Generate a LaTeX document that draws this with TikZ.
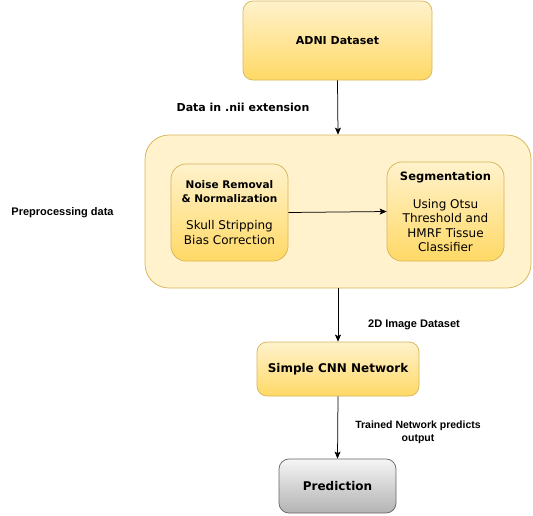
\documentclass[tikz,border=0pt]{standalone}
\usepackage{fontspec}
\setmainfont{DejaVu Sans}
\newfontfamily\arialfont{Liberation Sans}
\usetikzlibrary{arrows.meta}
\definecolor{ylight}{HTML}{FFF2CC}
\definecolor{ydark}{HTML}{FFD966}
\definecolor{yborder}{HTML}{D6B656}
\definecolor{glight}{HTML}{F5F5F5}
\definecolor{gdark}{HTML}{B3B3B3}
\definecolor{gborder}{HTML}{666666}
\tikzset{
  ybox/.style={draw=yborder, line width=0.75pt, top color=ylight, bottom color=ydark, rounded corners=#1, inner sep=0pt, align=center},
  gbox/.style={draw=gborder, line width=0.75pt, top color=glight, bottom color=gdark, rounded corners=10pt, inner sep=0pt, align=center},
  outerbox/.style={draw=yborder, line width=0.75pt, fill=ylight, rounded corners=24pt, inner sep=0pt},
  conn/.style={draw=black, line width=0.75pt, -{Stealth[length=7pt,width=6pt,inset=1.5pt]}},
  lbl/.style={inner sep=0pt, align=center, font=\arialfont\bfseries\fontsize{11}{13}\selectfont},
}
\newcommand{\nbold}{\bfseries\fontsize{10.5}{13}\selectfont}
\newcommand{\sbold}{\bfseries\fontsize{11.5}{14}\selectfont}
\begin{document}
\begin{tikzpicture}[x=1pt,y=-1pt]
\useasboundingbox (0,0) rectangle (533,515);
% outer preprocessing container
\node[outerbox, minimum width=386pt, minimum height=153pt] (pre) at (338,211.5) {};
% boxes
\node[ybox=10pt, minimum width=189pt, minimum height=79pt, font=\bfseries\fontsize{11}{13}\selectfont] (adni) at (337.5,40.5) {ADNI Dataset};
\node[ybox=15pt, minimum width=117pt, minimum height=97pt, font=\fontsize{12}{15}\selectfont] (noise) at (229.5,212.5)
  {\nbold Noise Removal\\[-1.5pt] \nbold \& Normalization\\[12pt] Skull Stripping\\ Bias Correction};
\node[ybox=15pt, minimum width=117pt, minimum height=99pt, font=\fontsize{12}{14.5}\selectfont] (seg) at (445.5,211.5)
  {\sbold Segmentation\\[13.5pt] Using Otsu\\ Threshold and\\ HMRF Tissue\\ Classifier};
\node[ybox=10pt, minimum width=162pt, minimum height=54pt, font=\bfseries\fontsize{12}{14}\selectfont] (cnn) at (338,369) {Simple CNN Network};
\node[gbox, minimum width=117pt, minimum height=54pt, font=\bfseries\fontsize{12}{14}\selectfont] (pred) at (337.5,486) {Prediction};
% labels
\node[inner sep=0pt, font=\bfseries\fontsize{11}{13}\selectfont] (l1) at (243,107) {Data in .nii extension};
\node[lbl] (l2) at (62.5,212.5) {Preprocessing data};
\node[lbl] (l3) at (414,324.5) {2D Image Dataset};
\node[lbl, font=\arialfont\bfseries\fontsize{10.5}{13}\selectfont] (l4) at (418,432.5) {Trained Network predicts\\ output};
% connectors
\draw[conn] (adni.south) -- (pre.north);
\draw[conn] (noise.east) -- (seg.west);
\draw[conn] (pre.south) -- (cnn.north);
\draw[conn] (cnn.south) -- (pred.north);
\end{tikzpicture}
\end{document}
